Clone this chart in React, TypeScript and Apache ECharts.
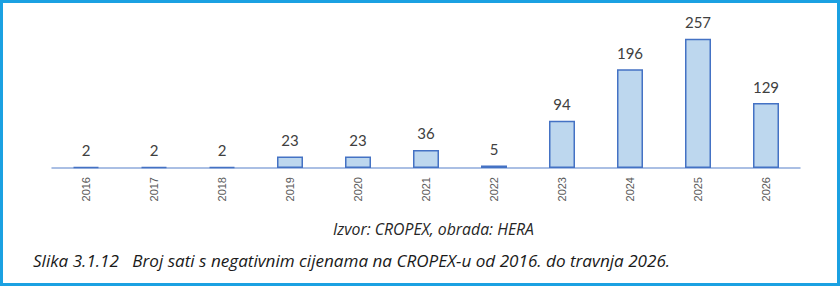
import React, { useEffect, useRef } from "react";
import * as echarts from "echarts";

const years = ["2016", "2017", "2018", "2019", "2020", "2021", "2022", "2023", "2024", "2025", "2026"];
const negativeHours = [2, 2, 2, 23, 23, 36, 5, 94, 196, 257, 129];
const sourceNote = "Izvor: CROPEX, obrada: HERA";
const captionText = "Slika 3.1.12   Broj sati s negativnim cijenama na CROPEX-u od 2016. do travnja 2026.";

export default function App() {
  const ref = useRef<HTMLDivElement>(null);

  useEffect(() => {
    if (!ref.current) return;
    const chart = echarts.init(ref.current, null, { renderer: "svg" });
    chart.setOption({
      animation: false,
      backgroundColor: "#ffffff",
      grid: { left: 52, right: 40, top: 17, bottom: 118 },
      xAxis: {
        type: "category",
        data: years,
        axisLine: { show: true, lineStyle: { color: "#8eaadb", width: 1.5 } },
        axisTick: { show: false },
        axisLabel: {
          rotate: 90,
          margin: 9,
          fontSize: 11,
          color: "#595959",
          fontFamily: "Liberation Sans",
        },
      },
      yAxis: {
        type: "value",
        min: 0,
        max: 300,
        show: false,
        splitLine: { show: false },
      },
      series: [
        {
          type: "bar",
          data: negativeHours,
          barWidth: 26,
          itemStyle: { color: "#bdd7ee", borderColor: "#4472c4", borderWidth: 1.5 },
          label: {
            show: true,
            position: "top",
            distance: 9,
            fontSize: 15,
            color: "#404040",
            fontFamily: "Lato",
          },
        },
      ],
      graphic: [
        {
          type: "text",
          left: 333,
          top: 221,
          style: {
            text: sourceNote,
            font: "italic 15.8px 'Open Sans'",
            fill: "#262626",
          },
        },
        {
          type: "text",
          left: 33,
          top: 252,
          style: {
            text: captionText,
            font: "italic 17.1px 'Open Sans'",
            fill: "#1a1a1a",
          },
        },
      ],
    });
    return () => chart.dispose();
  }, []);

  return (
    <div style={{ position: "fixed", left: 0, top: 0, width: 840, height: 286 }}>
      <div ref={ref} style={{ position: "absolute", left: 0, top: 0, width: 840, height: 286 }} />
      <div
        style={{
          position: "absolute",
          left: 0,
          top: 0,
          width: 840,
          height: 286,
          boxSizing: "border-box",
          border: "3px solid #1ba1e2",
          pointerEvents: "none",
        }}
      />
    </div>
  );
}
